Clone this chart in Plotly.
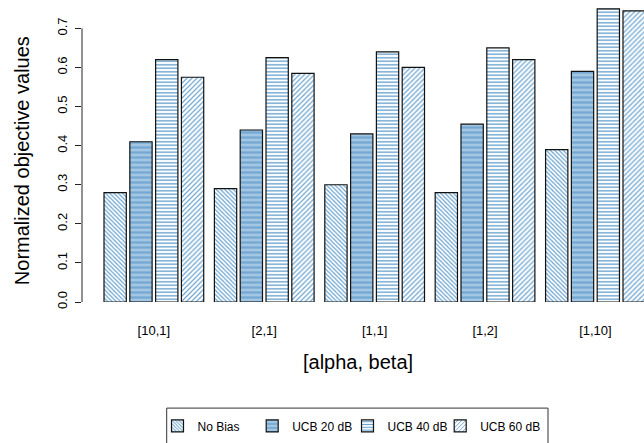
import plotly.graph_objects as go

# [alpha, beta] settings and normalized objective values per strategy
categories = ["[10,1]", "[2,1]", "[1,1]", "[1,2]", "[1,10]"]
no_bias = [0.28, 0.29, 0.30, 0.28, 0.39]
ucb_20 = [0.41, 0.44, 0.43, 0.455, 0.59]
ucb_40 = [0.62, 0.625, 0.64, 0.65, 0.75]
ucb_60 = [0.575, 0.585, 0.60, 0.62, 0.745]
series_names = ["No Bias", "UCB 20 dB", "UCB 40 dB", "UCB 60 dB"]
y_ticks = [0.0, 0.1, 0.2, 0.3, 0.4, 0.5, 0.6, 0.7]

FONT = "Liberation Sans, Arial, Helvetica, sans-serif"
LINE_BLUE = "#6aa3cf"

styles = [
    dict(shape="\\", bg="white", fg=LINE_BLUE, size=3, solidity=0.4),
    dict(shape="-", bg="#a3c7e3", fg="#74a8d2", size=5, solidity=0.45),
    dict(shape="-", bg="white", fg=LINE_BLUE, size=3.5, solidity=0.4),
    dict(shape="/", bg="white", fg=LINE_BLUE, size=3.5, solidity=0.35),
]

W, H = 644, 443
L, B = 82, 141.3


def px_x(v):
    return (v - L) / (W - L)


def px_y(v):
    return (H - B - v) / (H - B)


# one legend per series so each key sits at its own spot in the row
legend_ids = ["legend", "legend2", "legend3", "legend4"]
legend_left = [157.5, 252.2, 347.5, 440.2]

fig = go.Figure()
for name, vals, st, lg in zip(series_names, [no_bias, ucb_20, ucb_40, ucb_60], styles, legend_ids):
    fig.add_trace(go.Bar(
        x=categories, y=vals, name=name, legend=lg,
        marker=dict(
            color=st["bg"],
            line=dict(color="#111111", width=1.2),
            pattern=dict(shape=st["shape"], fgcolor=st["fg"], bgcolor=st["bg"],
                         size=st["size"], solidity=st["solidity"], fillmode="replace"),
        ),
        cliponaxis=True,
    ))

legends = {}
for lg, lx in zip(legend_ids, legend_left):
    legends[lg] = dict(
        orientation="h",
        x=px_x(lx), xanchor="left",
        y=px_y(411), yanchor="top",
        borderwidth=0, bgcolor="rgba(0,0,0,0)",
        font=dict(size=12, family=FONT),
    )

fig.update_layout(
    width=W, height=H,
    margin=dict(l=L, r=0, t=0, b=B, pad=0),
    paper_bgcolor="white", plot_bgcolor="white",
    barmode="group", bargap=0.065, bargroupgap=0.136,
    font=dict(family=FONT, color="black"),
    showlegend=True,
    **legends,
    xaxis=dict(
        type="category",
        range=[-0.651, 4.44],
        showline=False, showgrid=False, zeroline=False,
        ticks="outside", ticklen=16, tickcolor="rgba(0,0,0,0)",
        tickfont=dict(size=13, family=FONT),
    ),
    yaxis=dict(
        range=[0, 0.7726],
        tickvals=y_ticks,
        ticktext=[f"{v:.1f}" for v in y_ticks],
        tickangle=-90,
        showline=False, showgrid=False, zeroline=False,
        ticks="outside", ticklen=6, tickwidth=1, tickcolor="#222222",
        ticklabelstandoff=3,
        tickfont=dict(size=13, family=FONT),
    ),
    shapes=[
        dict(type="line", xref="paper", yref="y",
             x0=0, x1=0, y0=y_ticks[0], y1=y_ticks[-1],
             line=dict(color="#222222", width=1)),
        # legend frame, running past the lower edge of the page
        dict(type="rect", xref="paper", yref="paper",
             x0=px_x(166.7), x1=px_x(548), y0=px_y(407.7), y1=px_y(452),
             line=dict(color="#333333", width=1), fillcolor="rgba(0,0,0,0)"),
    ],
    annotations=[
        dict(text="Normalized objective values", xref="paper", yref="paper",
             x=px_x(22), y=px_y(161),
             xanchor="center", yanchor="middle", textangle=-90,
             showarrow=False, font=dict(size=20, family=FONT)),
        dict(text="[alpha, beta]", xref="paper", yref="paper",
             x=px_x(358), y=px_y(362),
             xanchor="center", yanchor="middle",
             showarrow=False, font=dict(size=20, family=FONT)),
    ],
)

fig.write_html("out.html")
